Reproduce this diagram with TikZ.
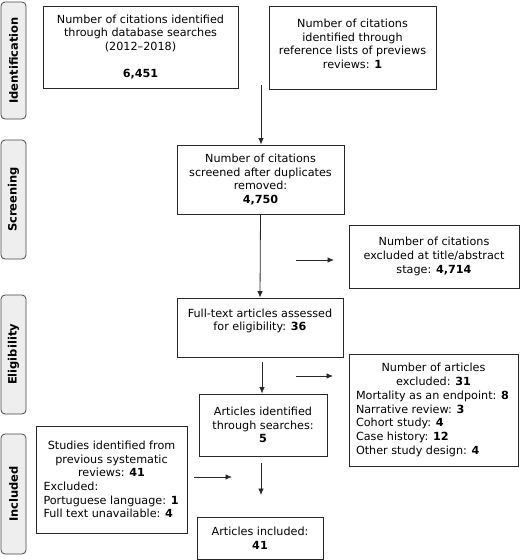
\documentclass[tikz,border=0pt]{standalone}
\usepackage{fontspec}
\setmainfont{DejaVu Sans}
\usetikzlibrary{arrows.meta, positioning, calc}
\definecolor{lineDark}{RGB}{40, 40, 40}
\definecolor{phaseBg}{RGB}{238, 238, 238}
\definecolor{phaseLine}{RGB}{70, 70, 70}

\begin{document}
\begin{tikzpicture}[
    x=1pt, y=-1pt,
    box/.style={rectangle, draw=lineDark, text=black, fill=white, inner sep=0pt, align=center, line width=0.8pt, font=\fontsize{11.2}{13.7}\selectfont},
    phase/.style={rectangle, draw=phaseLine, fill=phaseBg, rounded corners=4pt, minimum width=25pt, inner sep=0pt, line width=0.8pt, rotate=90, font=\fontsize{11.5}{13}\selectfont\bfseries},
    flow/.style={-{Latex[length=6.5pt, width=5.5pt]}, line width=0.8pt, draw=lineDark}
  ]
    \useasboundingbox (0,0) rectangle (520,560);

    % Phase labels on the left
    \node[phase, minimum width=117pt, minimum height=25pt] (ident) at (13.5,60.5) {Identification};
    \node[phase, minimum width=119pt, minimum height=25pt] (screening) at (13.5,199.5) {Screening};
    \node[phase, minimum width=119pt, minimum height=25pt] (elig) at (13.5,354.5) {Eligibility};
    \node[phase, minimum width=120pt, minimum height=25pt] (incl) at (13.5,494) {Included};

    % Identification
    \node[box, minimum width=195pt, minimum height=82pt] (dbsearch) at (140.5,47) {Number of citations identified\\through database searches\\(2012--2018)\\[13.7pt]\textbf{6,451}};
    \node[box, minimum width=167pt, minimum height=83pt] (reflists) at (352.5,47.5) {Number of citations\\identified through\\reference lists of previews\\reviews: \textbf{1}\\[-6pt]};

    % Screening
    \node[box, minimum width=167pt, minimum height=69pt] (screened) at (260.5,179.5) {Number of citations\\screened after duplicates\\removed:\\\textbf{4,750}};
    \node[box, minimum width=170pt, minimum height=63pt] (exclTitle) at (434,256.5) {Number of citations\\excluded at title/abstract\\stage: \textbf{4,714}};

    % Eligibility
    \node[box, minimum width=166pt, minimum height=59pt] (fulltext) at (260,327.5) {Full-text articles assessed\\for eligibility: \textbf{36}\\[2pt]};
    \node[box, minimum width=169pt, minimum height=112pt, text width=155pt, align=none] (exclArt) at (433.5,410) {\centering Number of articles\\excluded: \textbf{31}\par\raggedright Mortality as an endpoint: \textbf{8}\\Narrative review: \textbf{3}\\Cohort study: \textbf{4}\\Case history: \textbf{12}\\Other study design: \textbf{4}\par};
    \node[box, minimum width=128pt, minimum height=62pt] (searches) at (263,425) {Articles identified\\through searches:\\\textbf{5}};

    % Included
    \node[box, minimum width=151pt, minimum height=107pt, text width=136pt, align=none] (previous) at (111.5,479.5) {\centering Studies identified from\\previous systematic\\reviews: \textbf{41}\par\raggedright Excluded:\\Portuguese language: \textbf{1}\\Full text unavailable: \textbf{4}\\[-4pt]};
    \node[box, minimum width=126pt, minimum height=42pt] (included) at (260,538) {Articles included:\\\textbf{41}};

    % Free arrow ends
    \coordinate (merge) at (261,85);
    \coordinate (toExclA) at (296,260);
    \coordinate (toExclB) at (296,376);
    \coordinate (fromFull) at (262,362);
    \coordinate (toSearch) at (194,477);
    \coordinate (fromSearch) at (261,463);

    % Connectors
    \draw[flow] (merge) -- (merge |- screened.north);
    \draw[flow] (screened.south) -- (fulltext.north);
    \draw[flow] (toExclA) -- ++(38,0);
    \draw[flow] (fromFull) -- (fromFull |- searches.north);
    \draw[flow] (toExclB) -- ++(37,0);
    \draw[flow] (toSearch) -- ++(38,0);
    \draw[flow] (fromSearch) -- ++(0,32);
  \end{tikzpicture}
\end{document}
